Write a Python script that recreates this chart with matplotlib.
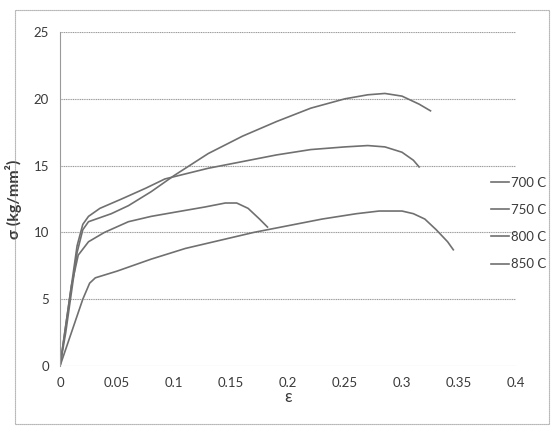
import numpy as np
import matplotlib
matplotlib.use('Agg')
import matplotlib.pyplot as plt
from matplotlib.patches import Rectangle

plt.rcParams['font.family'] = ['Lato', 'DejaVu Sans']

# Stress-strain curves
strain_700 = [0, 0.005, 0.01, 0.015, 0.02, 0.025, 0.035, 0.045, 0.06, 0.08, 0.1, 0.13, 0.16,
              0.19, 0.22, 0.25, 0.27, 0.285, 0.3, 0.315, 0.325]
stress_700 = [0, 2.5, 5.5, 8.5, 10.2, 10.8, 11.1, 11.4, 12.0, 13.05, 14.25, 15.9, 17.2,
              18.3, 19.3, 20.0, 20.3, 20.4, 20.2, 19.6, 19.1]

strain_750 = [0, 0.005, 0.01, 0.015, 0.02, 0.025, 0.035, 0.054, 0.075, 0.092, 0.13, 0.16,
              0.19, 0.22, 0.25, 0.27, 0.285, 0.3, 0.31, 0.315]
stress_750 = [0, 3, 6, 9, 10.6, 11.2, 11.8, 12.5, 13.3, 14.0, 14.8, 15.3,
              15.8, 16.2, 16.4, 16.5, 16.4, 16.0, 15.4, 14.9]

strain_800 = [0, 0.005, 0.01, 0.016, 0.025, 0.039, 0.06, 0.08, 0.1, 0.127, 0.145,
              0.155, 0.165, 0.175, 0.182]
stress_800 = [0, 3, 6, 8.3, 9.3, 10.0, 10.8, 11.2, 11.5, 11.9, 12.2,
              12.2, 11.8, 11.0, 10.4]

strain_850 = [0, 0.01, 0.02, 0.026, 0.031, 0.05, 0.08, 0.11, 0.14, 0.17, 0.2, 0.23,
              0.26, 0.28, 0.3, 0.31, 0.32, 0.33, 0.34, 0.345]
stress_850 = [0, 2.5, 5.0, 6.2, 6.6, 7.1, 8.0, 8.8, 9.4, 10.0, 10.5, 11.0,
              11.4, 11.6, 11.6, 11.4, 11.0, 10.2, 9.3, 8.7]

labels = ['700 C', '750 C', '800 C', '850 C']
x_ticks = [0, 0.05, 0.1, 0.15, 0.2, 0.25, 0.3, 0.35, 0.4]
x_tick_labels = ['0', '0.05', '0.1', '0.15', '0.2', '0.25', '0.3', '0.35', '0.4']
y_ticks = [0, 5, 10, 15, 20, 25]

line_color = '#707070'
grid_color = '#9a9a9a'
text_color = '#3a3a3a'

fig = plt.figure(figsize=(5.52, 4.32), dpi=100)
ax = fig.add_axes([60 / 552, 1 - 366 / 432, (516 - 60) / 552, (366 - 32) / 432])

curves = [(strain_700, stress_700), (strain_750, stress_750),
          (strain_800, stress_800), (strain_850, stress_850)]
for (x, y), lab in zip(curves, labels):
    ax.plot(x, y, color=line_color, lw=1.2, label=lab)

ax.set_xlim(0, 0.4)
ax.set_ylim(0, 25)
ax.set_xticks(x_ticks)
ax.set_xticklabels(x_tick_labels)
ax.set_yticks(y_ticks)
ax.tick_params(length=0, labelsize=9.5, colors=text_color, pad=8)
ax.grid(axis='y', color=grid_color, lw=0.8, ls=(0, (1, 0.6)))
ax.set_axisbelow(True)
for side in ['top', 'right', 'bottom']:
    ax.spines[side].set_visible(False)
ax.spines['left'].set_color(grid_color)
ax.spines['left'].set_linewidth(0.8)

ax.set_xlabel('ε', fontsize=12, color=text_color, labelpad=0)
ax.set_ylabel('σ (kg/mm²)', fontsize=11.5, color=text_color, fontweight='bold', labelpad=8)

leg = fig.legend(loc='upper left', bbox_to_anchor=(484 / 552, 1 - 170 / 432),
                 frameon=False, fontsize=9.5, handlelength=1.4, handletextpad=0.15,
                 labelspacing=1.15, borderpad=0)
for t in leg.get_texts():
    t.set_color(text_color)

# dotted chart border
fig.patches.append(Rectangle((15 / 552, 1 - 424 / 432), 534 / 552, 414 / 432,
                             transform=fig.transFigure, fill=False,
                             ec='#8a8a8a', lw=0.8, ls=(0, (1, 0.8))))

fig.savefig('out.png', dpi=100)
